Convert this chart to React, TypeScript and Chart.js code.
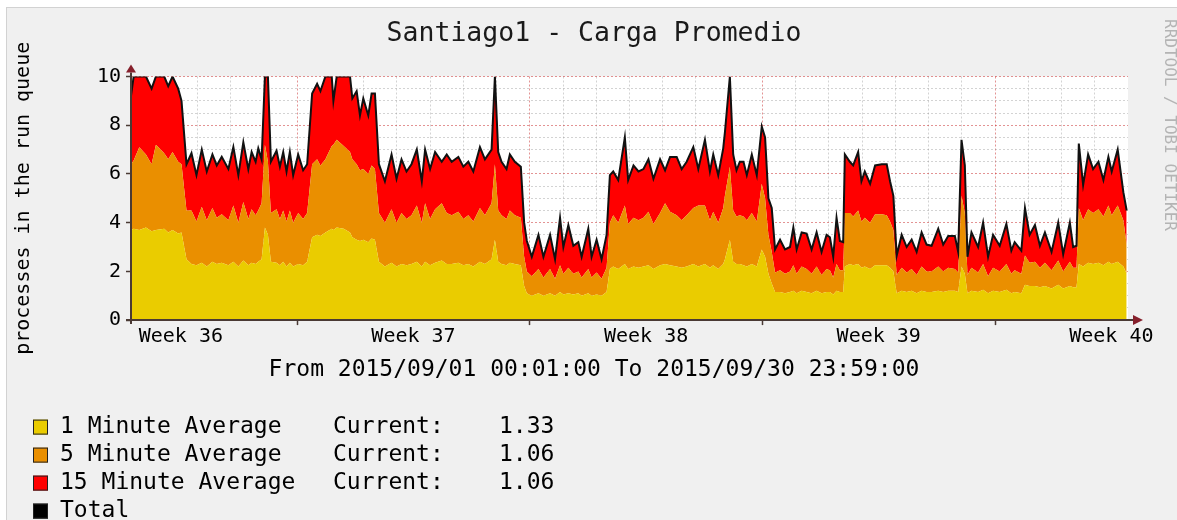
import React, { useEffect, useRef } from "react";
import { Chart, registerables } from "chart.js";

Chart.register(...registerables);

const MONO = "'DejaVu Sans Mono', 'Liberation Mono', monospace";

// ---- texts ----
const chartTitle = "Santiago1 - Carga Promedio";
const rangeText = "From 2015/09/01 00:01:00 To 2015/09/30 23:59:00";
const yAxisTitle = "processes in the run queue";
const watermark = "RRDTOOL / TOBI OETIKER";
const currentLabel = "Current:";

// ---- x axis (days since 2015/09/01) ----
const weekLabels = ["Week 36", "Week 37", "Week 38", "Week 39", "Week 40"];
const weekLabelDays = [1.5, 8.5, 15.5, 22.5, 29.5];
const weekStartDays = [5, 12, 19, 26];

// ---- legend ----
const seriesNames = ["1 Minute Average", "5 Minute Average", "15 Minute Average", "Total"];
const seriesColors = ["#EACC00", "#EA8F00", "#FF0000", "#000000"];
const currentValues = ["1.33", "1.06", "1.06", ""];

// ---- data ----
const days = [
  0.00, 0.08, 0.25, 0.45, 0.62, 0.75, 1.00, 1.12, 1.25, 1.42, 1.52,
  1.67, 1.82, 1.97, 2.13, 2.28, 2.45, 2.58, 2.73, 2.93, 3.08, 3.23, 3.38, 3.53, 3.63, 3.75, 3.83, 3.93,
  4.03, 4.12,
  4.21, 4.38, 4.48, 4.58, 4.68, 4.78, 4.88, 5.03, 5.18, 5.30,
  5.45, 5.60, 5.70, 5.85, 6.04, 6.09, 6.19, 6.40, 6.59, 6.66, 6.79, 6.89, 6.99, 7.14, 7.24, 7.34,
  7.46, 7.64, 7.84, 7.99, 8.14, 8.29, 8.44, 8.60, 8.75, 8.85,
  9.00, 9.15, 9.35, 9.50, 9.65, 9.85, 10.00, 10.15, 10.30, 10.50,
  10.65, 10.85, 10.95, 11.05, 11.15, 11.30, 11.40, 11.55, 11.73, 11.83,
  11.91, 12.06, 12.26, 12.41, 12.61, 12.76, 12.91, 13.01, 13.16, 13.31,
  13.46, 13.56, 13.76, 13.86, 14.01, 14.16, 14.31,
  14.41, 14.51, 14.66, 14.86, 14.96, 15.12, 15.27, 15.42, 15.57, 15.72,
  15.92, 16.07, 16.22, 16.42, 16.57, 16.72, 16.92, 17.07, 17.27, 17.42,
  17.52, 17.67, 17.82, 17.87, 18.02,
  18.12, 18.22, 18.32, 18.43, 18.53, 18.68, 18.83, 18.98, 19.08, 19.18, 19.28,
  19.38, 19.53, 19.68, 19.83, 19.93, 20.03, 20.18, 20.33, 20.48, 20.63,
  20.78, 20.93, 21.03, 21.13, 21.23, 21.33, 21.43,
  21.48, 21.63, 21.73, 21.88, 21.98, 22.08, 22.24, 22.39, 22.59, 22.74, 22.84, 22.94,
  23.04, 23.19, 23.34, 23.49, 23.64, 23.79, 23.94,
  24.09, 24.29, 24.44, 24.59, 24.79, 24.89, 24.99, 25.09,
  25.17, 25.29, 25.49, 25.64, 25.79, 25.94, 26.14, 26.34, 26.49, 26.59, 26.79,
  26.90, 27.04, 27.20, 27.35, 27.50, 27.70, 27.90, 28.05, 28.25, 28.35, 28.45,
  28.52, 28.65, 28.80, 28.95, 29.11, 29.26, 29.41, 29.51, 29.69, 29.86, 29.96,
];

// Total (black line)
const total = [
  9.2, 10, 10, 10, 9.5, 10, 10, 9.6, 10, 9.5, 9.0,
  6.4, 6.85, 5.95, 7.0, 6.1, 6.8, 6.35, 6.7, 6.2, 7.1, 5.95, 7.3, 6.2, 6.9, 6.5, 7.05, 6.6,
  10, 10,
  6.5, 6.95, 6.3, 6.9, 6.1, 6.9, 5.95, 6.8, 6.15, 6.4,
  9.3, 9.7, 9.4, 10, 10, 9.0, 10, 10, 10, 9.1, 9.4, 8.4, 9.1, 8.4, 9.3, 9.3,
  6.4, 5.7, 6.8, 5.8, 6.6, 6.1, 6.4, 7.0, 5.7, 7.0,
  6.2, 6.9, 6.5, 6.8, 6.5, 6.7, 6.3, 6.5, 6.1, 7.1,
  6.6, 7.0, 10, 6.9, 6.5, 6.2, 6.8, 6.5, 6.3, 4.0,
  3.26, 2.6, 3.5, 2.6, 3.5, 2.5, 4.2, 3.0, 3.9, 3.05,
  3.2, 2.6, 3.75, 2.6, 3.3, 2.5, 3.5,
  5.95, 6.1, 5.75, 7.5, 5.75, 6.35, 6.1, 6.2, 6.6, 5.8,
  6.6, 6.15, 6.7, 6.7, 6.2, 6.5, 7.1, 6.2, 7.4, 6.1,
  6.8, 5.95, 7.05, 7.7, 10,
  6.8, 6.15, 6.5, 6.5, 5.95, 6.8, 5.95, 7.95, 7.5, 5.0, 4.6,
  2.9, 3.3, 2.9, 3.0, 3.8, 2.9, 3.6, 3.55, 2.9, 3.6,
  2.8, 3.5, 3.4, 2.6, 4.2, 3.25, 3.2,
  6.8, 6.5, 6.35, 6.9, 5.7, 6.1, 5.6, 6.35, 6.4, 6.4, 5.7, 5.1,
  2.65, 3.5, 3.0, 3.3, 2.8, 3.6, 3.1,
  3.05, 3.75, 3.1, 3.45, 3.45, 2.8, 7.4, 6.35,
  2.6, 3.6, 3.0, 4.0, 2.6, 3.5, 3.05, 3.95, 2.85, 3.2, 2.85,
  4.6, 3.5, 3.9, 3.05, 3.6, 2.8, 4.0, 2.7, 4.0, 3.0, 3.05,
  7.25, 5.55, 6.8, 6.2, 6.5, 5.75, 6.7, 6.1, 7.0, 5.25, 4.5,
];

// 1 minute average (yellow layer)
const load1 = [
  3.7, 3.75, 3.7, 3.8, 3.65, 3.7, 3.75, 3.6, 3.7, 3.55, 3.6,
  2.5, 2.3, 2.25, 2.35, 2.2, 2.4, 2.3, 2.35, 2.25, 2.4, 2.2, 2.45, 2.25, 2.35, 2.3, 2.4, 2.5,
  3.8, 3.5,
  2.4, 2.35, 2.25, 2.4, 2.2, 2.35, 2.2, 2.3, 2.25, 2.4,
  3.4, 3.5, 3.45, 3.6, 3.75, 3.7, 3.8, 3.75, 3.6, 3.4, 3.3, 3.25, 3.3, 3.2, 3.35, 3.3,
  2.4, 2.2, 2.35, 2.2, 2.3, 2.25, 2.3, 2.4, 2.2, 2.4,
  2.25, 2.35, 2.45, 2.3, 2.3, 2.35, 2.25, 2.3, 2.2, 2.4,
  2.3, 2.5, 3.3, 2.4, 2.3, 2.25, 2.35, 2.3, 2.25, 1.4,
  1.1, 1.0, 1.1, 1.0, 1.1, 1.0, 1.15, 1.05, 1.1, 1.05,
  1.1, 1.0, 1.1, 1.0, 1.05, 1.0, 1.15,
  2.1, 2.2, 2.1, 2.3, 2.1, 2.2, 2.15, 2.2, 2.25, 2.1,
  2.25, 2.3, 2.25, 2.2, 2.15, 2.2, 2.3, 2.2, 2.3, 2.15,
  2.25, 2.1, 2.3, 2.5, 3.3,
  2.4, 2.3, 2.3, 2.25, 2.2, 2.3, 2.2, 2.9, 2.6, 1.9, 1.5,
  1.15, 1.15, 1.1, 1.15, 1.2, 1.1, 1.2, 1.15, 1.1, 1.2,
  1.1, 1.15, 1.15, 1.05, 1.2, 1.15, 1.15,
  2.2, 2.3, 2.25, 2.3, 2.15, 2.2, 2.1, 2.25, 2.25, 2.25, 2.15, 2.0,
  1.1, 1.2, 1.15, 1.2, 1.1, 1.2, 1.15,
  1.15, 1.2, 1.15, 1.2, 1.2, 1.15, 2.2, 1.9,
  1.1, 1.2, 1.15, 1.25, 1.1, 1.2, 1.15, 1.25, 1.1, 1.15, 1.1,
  1.45, 1.4, 1.4, 1.35, 1.4, 1.3, 1.45, 1.3, 1.4, 1.35, 1.35,
  2.3, 2.2, 2.35, 2.3, 2.35, 2.25, 2.4, 2.3, 2.4, 2.2, 1.9,
];

// 5 minute average (orange layer, stacked on the yellow one)
const load5 = [
  2.7, 2.8, 3.4, 3.0, 2.75, 3.5, 3.1, 3.0, 3.2, 2.95, 2.8,
  2.0, 2.2, 1.8, 2.3, 1.9, 2.2, 1.9, 2.0, 1.85, 2.3, 1.8, 2.4, 1.9, 2.2, 2.0, 2.1, 2.3,
  3.4, 3.0,
  2.0, 2.2, 1.9, 2.1, 1.85, 2.15, 1.8, 2.1, 1.9, 2.0,
  3.0, 3.1, 2.9, 3.0, 3.4, 3.5, 3.6, 3.4, 3.3, 3.2, 3.1, 2.9, 2.9, 2.8, 3.0, 2.9,
  2.0, 1.8, 2.2, 1.8, 2.1, 1.9, 2.0, 2.3, 1.8, 2.4,
  1.9, 2.2, 2.35, 2.1, 2.0, 2.1, 1.9, 2.0, 1.85, 2.2,
  2.0, 2.3, 3.1, 2.1, 2.0, 1.9, 2.15, 2.0, 1.95, 1.2,
  0.9, 0.8, 1.0, 0.75, 1.0, 0.7, 1.1, 0.85, 1.05, 0.85,
  0.9, 0.75, 1.0, 0.75, 0.9, 0.7, 1.0,
  1.9, 2.1, 1.9, 2.4, 1.85, 2.0, 1.95, 2.0, 2.2, 1.85,
  2.15, 2.5, 2.2, 2.1, 1.95, 2.1, 2.3, 2.5, 2.4, 1.95,
  2.2, 1.9, 2.3, 2.6, 3.0,
  2.1, 1.95, 2.0, 2.0, 1.9, 2.1, 1.85, 2.7, 2.4, 1.6, 1.3,
  0.8, 0.9, 0.8, 0.85, 1.05, 0.8, 1.0, 0.95, 0.8, 1.0,
  0.75, 0.95, 0.9, 0.7, 1.1, 0.9, 0.9,
  2.2, 2.1, 2.0, 2.2, 1.9, 2.0, 1.9, 2.1, 2.1, 2.05, 1.9, 1.7,
  0.75, 0.95, 0.8, 0.9, 0.75, 1.0, 0.85,
  0.85, 1.0, 0.85, 0.95, 0.9, 0.8, 2.9, 2.5,
  0.75, 0.95, 0.8, 1.05, 0.7, 0.95, 0.85, 1.05, 0.8, 0.9, 0.8,
  1.2, 0.95, 1.0, 0.8, 0.95, 0.75, 1.0, 0.7, 1.0, 0.8, 0.8,
  2.3, 1.9, 2.2, 2.1, 2.2, 2.0, 2.3, 2.0, 2.3, 1.9, 1.2,
];

// ---- style ----
const W = 1171;
const H = 513;
const BACK = "#f0f0f0";
const AXIS = "#4a3a34";
const ARROW = "#86202c";
const MINOR = "rgba(140,140,140,0.38)";
const MAJOR = "rgba(200,40,40,0.5)";
const NONE = "rgba(0,0,0,0)";

const xTickValues = Array.from({ length: 31 }, (_, i) => i)
  .concat(weekLabelDays)
  .sort((a, b) => a - b);
const yTickValues = Array.from({ length: 21 }, (_, i) => i * 0.5);

const rrdPlugin = {
  id: "rrdDecor",
  beforeDraw(chart: any) {
    const { ctx, chartArea: a, width, height } = chart;
    ctx.save();
    ctx.fillStyle = BACK;
    ctx.fillRect(0, 0, width, height);
    ctx.fillStyle = "#d2d2d2";
    ctx.fillRect(0, 0, width, 1);
    ctx.fillRect(0, 0, 1, height);
    ctx.fillStyle = "#ffffff";
    ctx.fillRect(a.left, a.top, a.right - a.left, a.bottom - a.top);
    ctx.restore();
  },
  afterDraw(chart: any) {
    const { ctx, chartArea: a } = chart;
    ctx.save();
    // axes
    ctx.strokeStyle = AXIS;
    ctx.lineWidth = 2;
    ctx.beginPath();
    ctx.moveTo(a.left - 5, a.bottom);
    ctx.lineTo(a.right + 5, a.bottom);
    ctx.moveTo(a.left, a.bottom + 4);
    ctx.lineTo(a.left, a.top - 4);
    ctx.stroke();
    // arrows
    ctx.fillStyle = ARROW;
    ctx.beginPath();
    ctx.moveTo(a.right + 5, a.bottom - 5);
    ctx.lineTo(a.right + 5, a.bottom + 5);
    ctx.lineTo(a.right + 15, a.bottom);
    ctx.closePath();
    ctx.fill();
    ctx.beginPath();
    ctx.moveTo(a.left - 5, a.top - 4);
    ctx.lineTo(a.left + 5, a.top - 4);
    ctx.lineTo(a.left, a.top - 12);
    ctx.closePath();
    ctx.fill();

    // watermark
    ctx.save();
    ctx.translate(1163, 12);
    ctx.rotate(Math.PI / 2);
    ctx.fillStyle = "#b4b4b4";
    ctx.font = `16px ${MONO}`;
    ctx.textAlign = "left";
    ctx.textBaseline = "middle";
    ctx.fillText(watermark, 0, 0);
    ctx.restore();

    // legend
    ctx.font = `23px ${MONO}`;
    ctx.textBaseline = "middle";
    ctx.textAlign = "left";
    seriesNames.forEach((name, i) => {
      const cy = a.bottom + 107 + i * 28;
      ctx.fillStyle = seriesColors[i];
      ctx.fillRect(27, cy - 7.5, 15, 15);
      ctx.strokeStyle = "#222";
      ctx.lineWidth = 1;
      ctx.strokeRect(27.5, cy - 7, 14, 14);
      ctx.fillStyle = "#000";
      ctx.fillText(name, 54, cy);
      if (currentValues[i]) {
        ctx.fillText(currentLabel, 327, cy);
        ctx.fillText(currentValues[i], 493, cy);
      }
    });
    ctx.restore();
  },
};

export default function App() {
  const ref = useRef<HTMLCanvasElement>(null);

  useEffect(() => {
    if (!ref.current) return;
    const load15 = total.map((t, i) =>
      Math.max(0, Math.round((t - load1[i] - load5[i]) * 100) / 100)
    );
    const pts = (arr: number[]) => days.map((d, i) => ({ x: d, y: arr[i] }));
    const area = {
      pointRadius: 0,
      borderWidth: 0,
      borderColor: NONE,
      tension: 0,
      stack: "load",
      order: 1,
    };

    const chart = new Chart(ref.current, {
      type: "line",
      data: {
        datasets: [
          {
            label: seriesNames[3],
            data: pts(total),
            borderColor: "#111111",
            borderWidth: 2,
            pointRadius: 0,
            fill: false,
            tension: 0,
            stack: "line",
            order: 0,
          },
          { ...area, label: seriesNames[0], data: pts(load1), backgroundColor: seriesColors[0], fill: "origin" },
          { ...area, label: seriesNames[1], data: pts(load5), backgroundColor: seriesColors[1], fill: "-1" },
          { ...area, label: seriesNames[2], data: pts(load15), backgroundColor: seriesColors[2], fill: "-1" },
        ],
      } as any,
      options: {
        animation: false,
        responsive: false,
        maintainAspectRatio: false,
        events: [],
        layout: { padding: { left: 5, right: 0, top: 0, bottom: 136.4 } },
        plugins: {
          legend: { display: false },
          tooltip: { enabled: false },
          title: {
            display: true,
            text: chartTitle,
            color: "#1a1a1a",
            font: { family: MONO, size: 26.5, weight: "normal" },
            padding: { top: 11, bottom: 26.7 },
          },
          subtitle: {
            display: true,
            position: "bottom",
            text: rangeText,
            color: "#000",
            font: { family: MONO, size: 23, weight: "normal" },
            padding: { top: 5.9, bottom: 0 },
          },
        },
        scales: {
          x: {
            type: "linear",
            min: 0,
            max: 30,
            z: 1,
            afterBuildTicks: (s: any) => {
              s.ticks = xTickValues.map((v) => ({ value: v }));
            },
            afterFit: (s: any) => {
              s.height = 30;
            },
            ticks: {
              autoSkip: false,
              maxRotation: 0,
              minRotation: 0,
              padding: 0,
              color: "#000",
              font: { family: MONO, size: 20 },
              callback: (v: any) => {
                const i = weekLabelDays.indexOf(Number(v));
                return i >= 0 ? weekLabels[i] : "";
              },
            },
            grid: {
              lineWidth: 1,
              drawTicks: true,
              tickLength: 5,
              tickWidth: 1.5,
              color: (c: any) => {
                const v = c.tick ? c.tick.value : -1;
                if (weekLabelDays.includes(v) || v === 0 || v === 30) return NONE;
                return weekStartDays.includes(v) ? MAJOR : MINOR;
              },
              tickColor: (c: any) => {
                const v = c.tick ? c.tick.value : -1;
                return weekStartDays.includes(v) ? AXIS : NONE;
              },
            },
            border: { display: false, dash: [2, 2] },
          },
          y: {
            type: "linear",
            stacked: true,
            min: 0,
            max: 10,
            z: 1,
            afterBuildTicks: (s: any) => {
              s.ticks = yTickValues.map((v) => ({ value: v }));
            },
            afterFit: (s: any) => {
              s.width = 120;
            },
            ticks: {
              autoSkip: false,
              padding: 5,
              color: "#000",
              font: { family: MONO, size: 20 },
              callback: (v: any) => (Number(v) % 2 === 0 ? String(v) : ""),
            },
            title: {
              display: true,
              text: yAxisTitle,
              color: "#000",
              font: { family: MONO, size: 20 },
              padding: { top: 1, bottom: 0 },
            },
            grid: {
              lineWidth: 1,
              drawTicks: true,
              tickLength: 5,
              tickWidth: 1.5,
              color: (c: any) => {
                const v = c.tick ? c.tick.value : -1;
                if (v === 0) return NONE;
                return v % 2 === 0 ? MAJOR : MINOR;
              },
              tickColor: (c: any) => {
                const v = c.tick ? c.tick.value : -1;
                return v % 2 === 0 ? AXIS : NONE;
              },
            },
            border: { display: false, dash: [2, 2] },
          },
          yRight: {
            type: "linear",
            position: "right",
            display: true,
            min: 0,
            max: 10,
            afterBuildTicks: (s: any) => {
              s.ticks = [];
            },
            afterFit: (s: any) => {
              s.width = 49;
            },
            ticks: { display: false },
            grid: { display: false, drawTicks: false },
            border: { display: false },
          },
        },
      } as any,
      plugins: [rrdPlugin],
    });
    return () => chart.destroy();
  }, []);

  return (
    <div style={{ position: "absolute", left: 6, top: 7, width: W, height: H, overflow: "hidden" }}>
      <canvas ref={ref} width={W} height={H} style={{ display: "block", width: W, height: H }} />
    </div>
  );
}
